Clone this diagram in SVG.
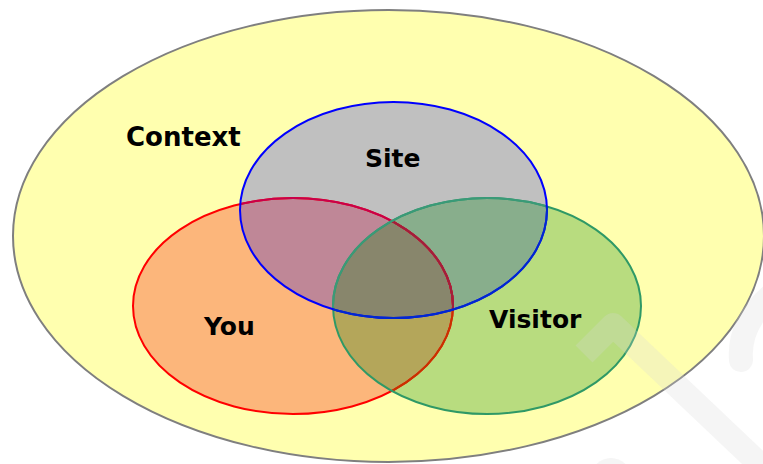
<svg xmlns="http://www.w3.org/2000/svg" width="763" height="464" viewBox="0 0 763 464">
  <style>
    .label { font-family: "DejaVu Sans", Verdana, sans-serif; font-weight: bold; font-size: 25px; fill: #000; }
    .nofill { fill: none; stroke-width: 2; }
  </style>
  <defs>
    <ellipse id="shSite" cx="393.5" cy="210" rx="153.5" ry="108"/>
    <ellipse id="shYou" cx="293" cy="306" rx="160" ry="108"/>
    <ellipse id="shVis" cx="487" cy="306" rx="154" ry="108"/>
    <clipPath id="inSite"><use href="#shSite"/></clipPath>
    <clipPath id="inYou"><use href="#shYou"/></clipPath>
    <clipPath id="inVis"><use href="#shVis"/></clipPath>
  </defs>

  <rect width="763" height="464" fill="#ffffff"/>

  <!-- outer context -->
  <g id="context">
    <ellipse cx="388.5" cy="236" rx="375.5" ry="226" fill="#ffffaf" stroke="#7f7f7f" stroke-width="2"/>
    <text class="label" x="126" y="146" style="font-size:26px">Context</text>
  </g>

  <!-- single-set areas -->
  <g id="you">
    <use href="#shYou" fill="#fcb67b"/>
  </g>
  <g id="visitor">
    <use href="#shVis" fill="#b8dc7f"/>
  </g>
  <g id="site">
    <use href="#shSite" fill="#c0c0c0"/>
  </g>

  <!-- overlap areas -->
  <g id="overlaps">
    <g clip-path="url(#inYou)"><use href="#shVis" fill="#b4a65a"/></g>
    <g clip-path="url(#inSite)"><use href="#shYou" fill="#bf8797"/></g>
    <g clip-path="url(#inSite)"><use href="#shVis" fill="#88ae8c"/></g>
    <g clip-path="url(#inSite)"><g clip-path="url(#inYou)"><use href="#shVis" fill="#88866c"/></g></g>
  </g>

  <!-- outlines, tinted where they pass under other sets -->
  <g id="outlines">
    <use href="#shYou" class="nofill" stroke="#ff0000"/>
    <g clip-path="url(#inVis)"><use href="#shYou" class="nofill" stroke="#c83200"/></g>
    <g clip-path="url(#inSite)"><use href="#shYou" class="nofill" stroke="#c8004a"/></g>
    <g clip-path="url(#inSite)"><g clip-path="url(#inVis)"><use href="#shYou" class="nofill" stroke="#a0203c"/></g></g>
    <use href="#shVis" class="nofill" stroke="#2f9966"/>
    <g clip-path="url(#inSite)"><use href="#shVis" class="nofill" stroke="#3a9a78"/></g>
    <use href="#shSite" class="nofill" stroke="#0000ff"/>
    <g clip-path="url(#inVis)"><use href="#shSite" class="nofill" stroke="#0028d0"/></g>
  </g>

  <!-- labels -->
  <g id="labels">
    <text class="label" x="365" y="167">Site</text>
    <text class="label" x="204" y="335">You</text>
    <text class="label" x="489" y="328">Visitor</text>
  </g>

  <!-- faint background mark, lower right -->
  <g fill="none" stroke="#d8d8d8" stroke-opacity="0.25" stroke-width="24" stroke-linejoin="round">
    <path d="M584,354 L613,325 L770,474"/>
    <path d="M741,360 Q738,322 775,292" stroke-linecap="round"/>
    <ellipse cx="611" cy="478" rx="20" ry="20" fill="#d8d8d8" fill-opacity="0.25" stroke="none"/>
  </g>
</svg>
